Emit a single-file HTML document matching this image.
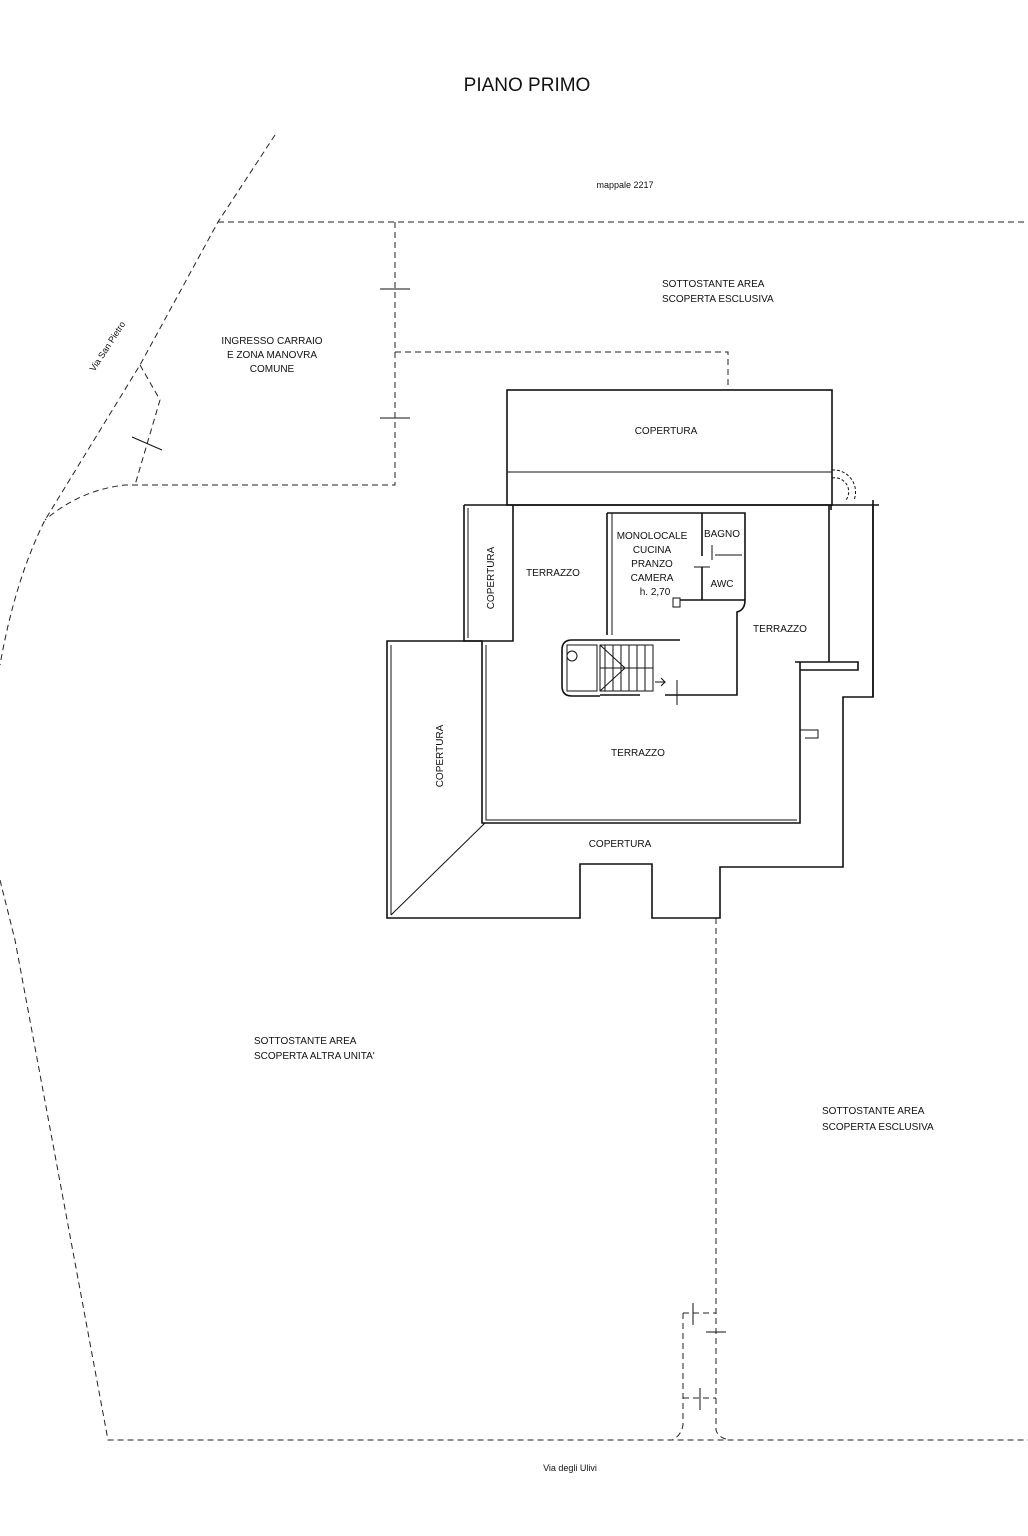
<!DOCTYPE html>
<html><head><meta charset="utf-8"><style>
html,body{margin:0;padding:0;background:#fff;}
svg{display:block}
text{font-family:"Liberation Sans",sans-serif;font-size:10px;fill:#111;}
.d{fill:none;stroke:#222;stroke-width:1;stroke-dasharray:6 4;}
.w{fill:none;stroke:#111;stroke-width:1.6;}
.t{fill:none;stroke:#111;stroke-width:1;}
</style></head><body>
<svg width="1028" height="1536" viewBox="0 0 1028 1536" xmlns="http://www.w3.org/2000/svg">
<text x="527" y="91" text-anchor="middle" style="font-size:19px">PIANO PRIMO</text>
<text x="625" y="188" text-anchor="middle" style="font-size:9px">mappale 2217</text>

<!-- boundaries -->
<path class="d" d="M275,135 L218,222 L140,365 L45,520 Q15,580 0,665"/>
<path class="d" d="M218,222 L1028,222"/>
<path class="d" d="M395,222 L395,485 L125,485 Q80,490 45,520"/>
<path class="d" d="M395,352 L728,352 L728,390"/>
<path class="d" d="M140,365 L160,400 L135,485"/>
<path class="t" d="M380,289 L410,289 M380,418 L410,418 M132,437 L162,450"/>
<path class="d" d="M0,880 L15,940 L108,1440 L1028,1440"/>
<path class="d" d="M716,918 L716,1430 Q718,1438 730,1440"/>
<path class="d" d="M683,1313 L683,1425 Q681,1436 672,1440"/>
<path class="d" d="M683,1313 L716,1313 M683,1398 L716,1398"/>
<path class="t" d="M693,1303 L693,1325 M706,1332 L726,1332 M700,1388 L700,1410"/>

<!-- building -->
<rect class="w" x="507" y="390" width="325" height="115"/>
<path class="t" d="M507,472 L832,472"/>
<path class="t" stroke-dasharray="3 2" d="M832,470 A22,22 0 0 1 854,500 M832,478 A14,14 0 0 1 846,500"/>
<path class="w" d="M464,505 L879,505 L873,505 L873,697 L843,697 L843,867 L720,867 L720,918 L652,918 L652,864 L580,864 L580,918 L387,918 L387,641 L482,641"/>
<path class="w" d="M464,505 L464,641 L482,641"/>
<path class="t" d="M468,508 L468,638"/>
<path class="w" d="M513,505 L513,641 L482,641 L482,823 L800,823 L800,662"/>
<path class="t" d="M486,645 L486,820 L797,820"/>
<path class="t" d="M485,823 L391,915 M391,645 L391,915"/>
<path class="w" d="M795,662 L858,662 L858,670 L800,670"/>
<path class="w" d="M829,505 L829,662"/>
<path class="w" d="M831,505 L831,510 M873,697 L873,500"/>
<path class="t" d="M800,730 L818,730 L818,738 L805,738"/>
<!-- room -->
<path class="w" d="M607,513 L745,513 L745,600 Q745,610 737,612 L737,695 L665,695 M640,695 L600,695"/>
<path class="w" d="M607,513 L607,635"/>
<path class="t" d="M612,513 L612,635"/>
<path class="w" d="M702,513 L702,556 M702,567 L702,600 M680,600 L745,600"/>
<path class="t" d="M694,567 L710,567 M712,545 L712,560 M715,555 L742,555"/>
<rect class="t" x="673" y="598" width="7" height="9"/>
<!-- stair -->
<path class="w" d="M680,640 L572,640 Q562,640 562,650 L562,686 Q562,696 572,696 L600,696"/>
<path class="t" d="M567,645 L567,691 L597,691 L597,645 Z"/>
<circle class="t" cx="572" cy="656" r="5"/>
<rect class="t" x="600" y="645" width="53" height="46"/>
<path class="t" d="M605,645 L605,691 M613,645 L613,691 M621,645 L621,691 M629,645 L629,691 M637,645 L637,691 M645,645 L645,691 M600,668 L653,668 M600,645 L625,668 L600,691"/>
<path class="t" d="M655,682 L665,682 L661,678 M661,686 L665,682"/>
<path class="t" d="M677,680 L677,705 M668,695 L690,695"/>

<text x="666" y="434" text-anchor="middle">COPERTURA</text>
<text transform="translate(494,578) rotate(-90)" text-anchor="middle">COPERTURA</text>
<text x="553" y="576" text-anchor="middle">TERRAZZO</text>
<text x="652" y="539" text-anchor="middle">MONOLOCALE</text>
<text x="652" y="553" text-anchor="middle">CUCINA</text>
<text x="652" y="567" text-anchor="middle">PRANZO</text>
<text x="652" y="581" text-anchor="middle">CAMERA</text>
<text x="655" y="595" text-anchor="middle">h. 2,70</text>
<text x="722" y="537" text-anchor="middle">BAGNO</text>
<text x="722" y="587" text-anchor="middle">AWC</text>
<text x="780" y="632" text-anchor="middle">TERRAZZO</text>
<text x="638" y="756" text-anchor="middle">TERRAZZO</text>
<text transform="translate(443,756) rotate(-90)" text-anchor="middle">COPERTURA</text>
<text x="620" y="847" text-anchor="middle">COPERTURA</text>

<text x="272" y="344" text-anchor="middle">INGRESSO CARRAIO</text>
<text x="272" y="358" text-anchor="middle">E ZONA MANOVRA</text>
<text x="272" y="372" text-anchor="middle">COMUNE</text>
<text transform="translate(110,348) rotate(-57)" text-anchor="middle" style="font-size:9px">Via San Pietro</text>
<text x="662" y="287">SOTTOSTANTE AREA</text>
<text x="662" y="302">SCOPERTA ESCLUSIVA</text>
<text x="254" y="1044">SOTTOSTANTE AREA</text>
<text x="254" y="1059">SCOPERTA ALTRA UNITA'</text>
<text x="822" y="1114">SOTTOSTANTE AREA</text>
<text x="822" y="1130">SCOPERTA ESCLUSIVA</text>
<text x="570" y="1471" text-anchor="middle" style="font-size:9px">Via degli Ulivi</text>
</svg>
</body></html>
